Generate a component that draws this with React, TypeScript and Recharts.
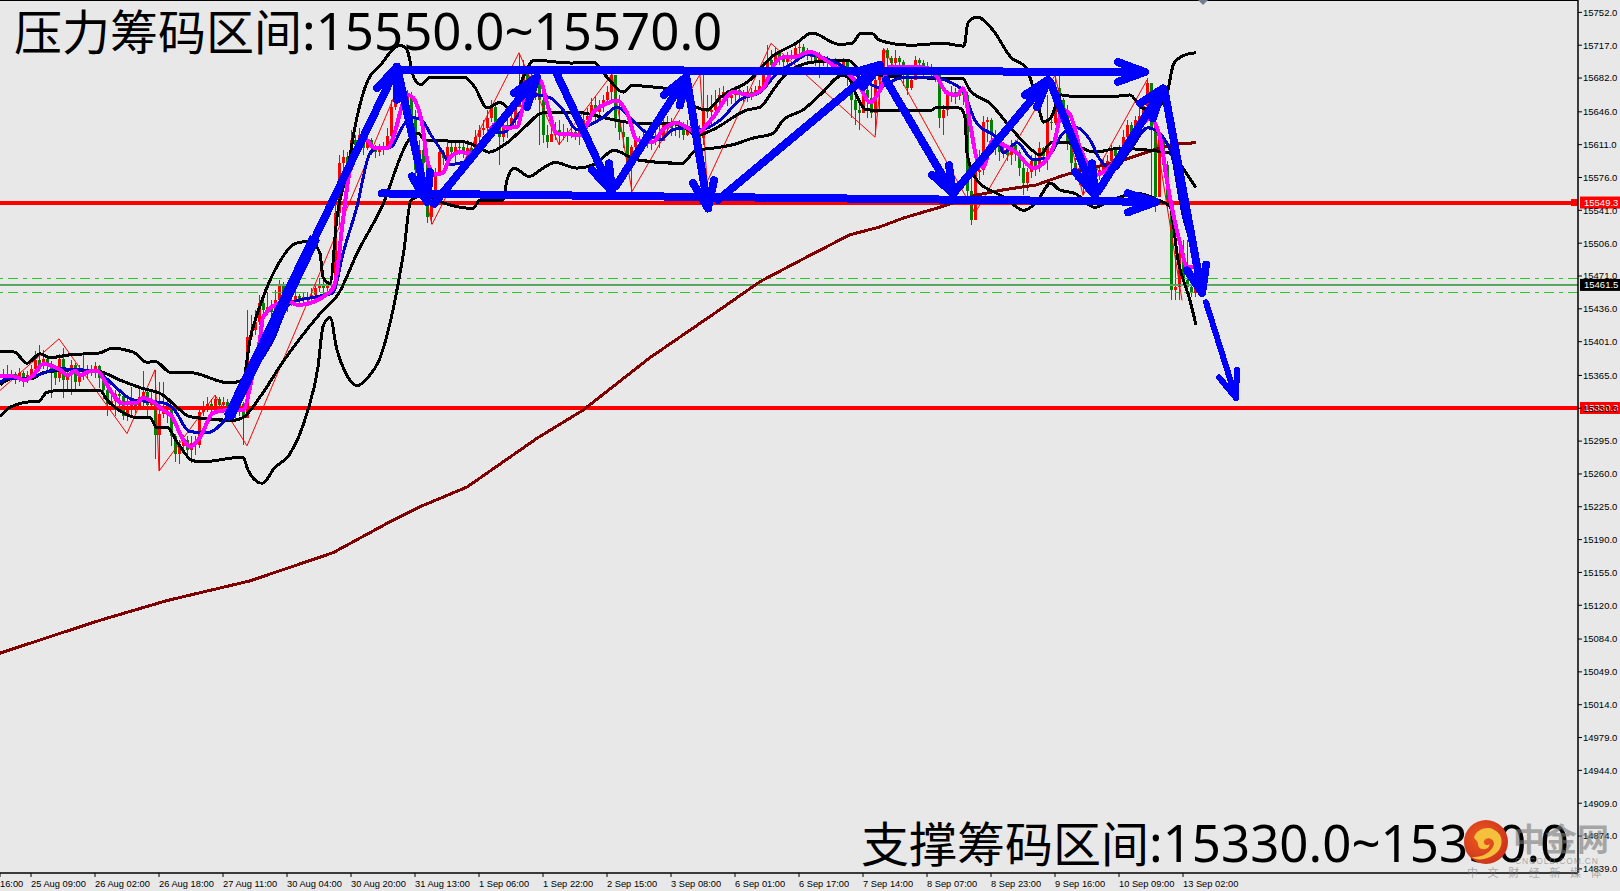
import { ComposedChart, Bar, Line, XAxis, YAxis, ReferenceLine } from "recharts";

// x values are bar numbers (one hourly bar = 4px), y values are prices
const closes = [
  15367, 15364, 15366, 15362, 15368, 15361, 15365, 15372, 15381, 15375, 15383, 15376, 15370, 15362, 15383, 15360, 15368, 15376, 15358, 15365,
  15372, 15368, 15371, 15375, 15362, 15350, 15335, 15338, 15345, 15343, 15322, 15330, 15335, 15332, 15342, 15347, 15333, 15337, 15302, 15324,
  15330, 15328, 15300, 15281, 15290, 15296, 15285, 15293, 15291, 15326, 15330, 15335, 15328, 15340, 15333, 15337, 15330, 15335, 15328, 15335,
  15320, 15406, 15413, 15422, 15442, 15435, 15438, 15433, 15445, 15461, 15445, 15442, 15445, 15450, 15445, 15449, 15446, 15451, 15458, 15462,
  15458, 15460, 15461, 15538, 15591, 15598, 15584, 15616, 15611, 15621, 15607, 15616, 15607, 15603, 15605, 15607, 15620, 15651, 15661, 15671,
  15659, 15664, 15639, 15584, 15605, 15591, 15534, 15549, 15581, 15603, 15597, 15609, 15603, 15609, 15608, 15603, 15607, 15603, 15619, 15627,
  15629, 15639, 15651, 15635, 15619, 15632, 15629, 15639, 15651, 15674, 15687, 15678, 15684, 15680, 15659, 15621, 15614, 15622, 15627, 15623,
  15625, 15620, 15624, 15621, 15627, 15637, 15642, 15653, 15646, 15651, 15659, 15667, 15685, 15635, 15624, 15619, 15591, 15608, 15616, 15614,
  15619, 15613, 15614, 15620, 15615, 15632, 15634, 15629, 15627, 15630, 15621, 15630, 15627, 15629, 15618, 15648, 15646, 15648, 15656, 15664,
  15667, 15661, 15664, 15669, 15666, 15664, 15667, 15664, 15669, 15674, 15694, 15701, 15696, 15709, 15703, 15699, 15703, 15706, 15714, 15715,
  15710, 15706, 15706, 15701, 15703, 15701, 15699, 15695, 15697, 15691, 15699, 15688, 15659, 15648, 15645, 15669, 15661, 15645, 15680, 15685,
  15712, 15703, 15698, 15703, 15699, 15688, 15671, 15680, 15701, 15698, 15693, 15691, 15688, 15685, 15639, 15648, 15664, 15667, 15663, 15667,
  15664, 15562, 15531, 15582, 15584, 15635, 15637, 15621, 15611, 15603, 15605, 15600, 15611, 15603, 15586, 15570, 15582, 15594, 15586, 15607,
  15599, 15635, 15634, 15671, 15659, 15648, 15613, 15591, 15582, 15586, 15575, 15580, 15586, 15582, 15584, 15590, 15594, 15605, 15599, 15603,
  15619, 15632, 15624, 15637, 15642, 15652, 15677, 15627, 15555, 15616, 15589, 15552, 15456, 15459, 15495, 15467, 15459, 15453, 15461.5,
];
const highs = [
  15372, 15376, 15371, 15369, 15373, 15370, 15370, 15376, 15391, 15397, 15392, 15386, 15380, 15375, 15388, 15394, 15372, 15381, 15378, 15376,
  15389, 15376, 15376, 15379, 15376, 15364, 15352, 15344, 15350, 15350, 15345, 15340, 15353, 15340, 15354, 15370, 15352, 15350, 15371, 15358,
  15358, 15338, 15330, 15303, 15296, 15302, 15300, 15300, 15300, 15330, 15338, 15342, 15340, 15344, 15342, 15342, 15340, 15340, 15338, 15340,
  15337, 15435, 15429, 15435, 15451, 15447, 15454, 15445, 15456, 15467, 15465, 15447, 15450, 15456, 15452, 15454, 15454, 15458, 15463, 15469,
  15467, 15465, 15467, 15547, 15600, 15605, 15603, 15627, 15621, 15629, 15624, 15621, 15618, 15611, 15612, 15614, 15629, 15659, 15671, 15680,
  15675, 15669, 15667, 15648, 15616, 15611, 15594, 15557, 15586, 15609, 15605, 15616, 15614, 15616, 15614, 15613, 15616, 15611, 15627, 15632,
  15637, 15648, 15659, 15656, 15639, 15637, 15639, 15646, 15656, 15708, 15701, 15693, 15695, 15691, 15682, 15664, 15632, 15629, 15635, 15637,
  15633, 15629, 15631, 15629, 15633, 15646, 15650, 15661, 15663, 15659, 15664, 15673, 15687, 15680, 15664, 15637, 15616, 15611, 15621, 15620,
  15627, 15624, 15621, 15627, 15632, 15639, 15642, 15639, 15635, 15637, 15635, 15637, 15635, 15635, 15632, 15685, 15664, 15664, 15669, 15671,
  15674, 15669, 15671, 15674, 15674, 15669, 15673, 15671, 15674, 15680, 15699, 15717, 15712, 15714, 15712, 15707, 15710, 15712, 15720, 15720,
  15718, 15714, 15712, 15710, 15710, 15706, 15705, 15701, 15703, 15701, 15703, 15701, 15693, 15671, 15659, 15674, 15671, 15680, 15688, 15691,
  15714, 15714, 15706, 15712, 15706, 15701, 15682, 15684, 15705, 15703, 15701, 15699, 15697, 15693, 15686, 15653, 15669, 15673, 15671, 15673,
  15671, 15667, 15589, 15586, 15605, 15642, 15641, 15639, 15627, 15616, 15614, 15611, 15616, 15616, 15605, 15594, 15586, 15600, 15600, 15614,
  15609, 15664, 15642, 15685, 15685, 15661, 15653, 15621, 15597, 15594, 15589, 15586, 15594, 15592, 15589, 15597, 15600, 15611, 15609, 15611,
  15627, 15637, 15635, 15642, 15650, 15659, 15682, 15674, 15653, 15627, 15621, 15594, 15557, 15493, 15501, 15509, 15509, 15483, 15467,
];
const lows = [
  15360, 15358, 15361, 15356, 15358, 15353, 15357, 15362, 15368, 15370, 15372, 15370, 15341, 15355, 15358, 15341, 15350, 15344, 15350, 15354,
  15360, 15362, 15364, 15362, 15352, 15340, 15322, 15330, 15322, 15332, 15318, 15316, 15320, 15325, 15328, 15332, 15322, 15328, 15276, 15264,
  15320, 15314, 15290, 15273, 15271, 15282, 15280, 15272, 15280, 15288, 15322, 15326, 15322, 15326, 15328, 15325, 15322, 15326, 15316, 15322,
  15291, 15349, 15403, 15408, 15419, 15422, 15429, 15424, 15433, 15443, 15439, 15433, 15439, 15441, 15440, 15441, 15440, 15443, 15445, 15454,
  15452, 15454, 15456, 15456, 15525, 15582, 15579, 15582, 15603, 15605, 15600, 15605, 15600, 15597, 15599, 15600, 15605, 15616, 15648, 15659,
  15650, 15648, 15632, 15575, 15579, 15582, 15528, 15526, 15546, 15578, 15589, 15594, 15597, 15591, 15600, 15597, 15599, 15594, 15605, 15614,
  15621, 15623, 15635, 15629, 15589, 15614, 15618, 15627, 15632, 15659, 15664, 15667, 15671, 15659, 15611, 15613, 15607, 15614, 15616, 15611,
  15616, 15614, 15618, 15616, 15611, 15621, 15629, 15637, 15637, 15641, 15646, 15653, 15656, 15629, 15616, 15607, 15579, 15560, 15603, 15605,
  15611, 15607, 15605, 15611, 15607, 15621, 15624, 15620, 15620, 15618, 15616, 15620, 15621, 15621, 15611, 15611, 15639, 15632, 15639, 15653,
  15656, 15652, 15654, 15656, 15661, 15656, 15656, 15659, 15664, 15667, 15669, 15682, 15688, 15699, 15696, 15693, 15696, 15701, 15704, 15705,
  15703, 15701, 15699, 15695, 15682, 15695, 15688, 15685, 15688, 15682, 15685, 15674, 15639, 15632, 15627, 15650, 15639, 15639, 15621, 15648,
  15699, 15671, 15688, 15693, 15691, 15674, 15664, 15669, 15688, 15688, 15684, 15685, 15682, 15678, 15629, 15621, 15642, 15656, 15654, 15659,
  15653, 15552, 15525, 15538, 15573, 15579, 15614, 15614, 15600, 15594, 15597, 15594, 15589, 15594, 15578, 15557, 15562, 15575, 15578, 15582,
  15589, 15584, 15627, 15632, 15650, 15632, 15605, 15582, 15573, 15568, 15557, 15568, 15575, 15573, 15573, 15582, 15586, 15592, 15592, 15594,
  15600, 15616, 15616, 15627, 15633, 15639, 15664, 15554, 15539, 15555, 15582, 15541, 15445, 15445, 15445, 15461, 15454, 15449, 15449,
];

const upperBand = [
  [-0.75, 15390], [2.75, 15390], [6, 15378], [9.25, 15388], [11.75, 15384], [16.75, 15387], [24.25, 15389], [27.25, 15394], [32.5, 15390], [36, 15379],
  [38, 15380], [42, 15368], [46.75, 15368], [56.5, 15357], [60, 15360], [61.75, 15403], [64.75, 15445], [69, 15485], [73.25, 15506], [77, 15508],
  [79.25, 15495], [80, 15470], [81.75, 15463], [83.5, 15534], [86.25, 15587], [88, 15630], [91.25, 15680], [94, 15694], [99.25, 15717], [101, 15712],
  [102.75, 15682], [104.5, 15675], [106.75, 15683], [115.25, 15683], [118, 15672], [121, 15650], [124.25, 15656], [127, 15648], [129.75, 15680], [132.75, 15701],
  [142, 15698], [147.5, 15699], [151, 15683], [155, 15667], [157.25, 15674], [163.5, 15672], [168.75, 15669], [173.25, 15651], [176, 15648], [179.5, 15662],
  [186.75, 15680], [192, 15704], [198.25, 15719], [202.25, 15730], [209, 15718], [212.25, 15719], [214.5, 15730], [217, 15730], [219.25, 15722], [227, 15717],
  [235, 15719], [240.25, 15716], [241.25, 15741], [243.5, 15747], [247.5, 15733], [252, 15704], [255.75, 15693], [259.25, 15645], [260, 15635], [262, 15640],
  [264.5, 15664], [268, 15662], [277, 15662], [281.75, 15664], [284.75, 15650], [287.25, 15648], [290.75, 15662], [292.75, 15698], [295.75, 15707], [298.25, 15709],
];
const middleBand = [
  [-0.75, 15355], [2.5, 15362], [7.5, 15362], [10, 15368], [17.5, 15371], [24.25, 15369], [29.25, 15360], [34.25, 15352], [40, 15344], [43.5, 15331],
  [46.75, 15321], [57.5, 15317], [60, 15320], [64.25, 15342], [69.75, 15378], [79.5, 15432], [84, 15453], [88.5, 15495], [94.75, 15545], [101.5, 15616],
  [103.75, 15623], [105.5, 15616], [115.25, 15614], [119, 15608], [121.5, 15603], [126, 15613], [130.5, 15630], [135, 15645], [144.25, 15645], [151, 15639],
  [158.5, 15634], [166.25, 15634], [170, 15630], [173.5, 15621], [177.5, 15627], [186, 15648], [189.25, 15651], [192.5, 15669], [195, 15683], [198.5, 15694],
  [202.5, 15699], [211.25, 15701], [215, 15688], [225, 15683], [231.75, 15682], [239.75, 15682], [241.75, 15669], [246.75, 15655], [251.75, 15630], [256.75, 15607],
  [259.25, 15600], [262, 15613], [266, 15613], [273, 15603], [279, 15607], [286.75, 15605], [291.75, 15602], [295.75, 15581], [298.25, 15565],
];
const lowerBand = [
  [-0.75, 15321], [1.75, 15331], [7.5, 15337], [8.75, 15337], [11, 15347], [14.25, 15349], [24.25, 15349], [26, 15339], [29.75, 15326], [33.5, 15320],
  [36.75, 15320], [38.5, 15309], [41, 15310], [43.5, 15294], [47.5, 15274], [50, 15273], [60, 15278], [61.25, 15264], [64.75, 15250], [68, 15267],
  [71.5, 15280], [76, 15325], [78.75, 15374], [80, 15417], [81.75, 15427], [83.5, 15392], [85.5, 15369], [88.5, 15354], [91.25, 15363], [94, 15381],
  [97.5, 15435], [100.25, 15499], [102, 15552], [105.5, 15557], [110, 15549], [117.5, 15543], [119.25, 15552], [125, 15552], [126, 15573], [127.75, 15586],
  [131.5, 15577], [135, 15586], [138, 15592], [143.5, 15586], [148.25, 15591], [152.75, 15605], [158.25, 15595], [169.75, 15591], [173.25, 15605], [177, 15607],
  [182.5, 15611], [187.5, 15618], [192.5, 15623], [195, 15637], [200, 15648], [204.25, 15664], [210, 15685], [211.75, 15680], [213.5, 15662], [216, 15648],
  [231.75, 15647], [233.5, 15651], [239.25, 15650], [240.5, 15640], [241, 15602], [243.5, 15573], [248.5, 15559], [250.25, 15555], [255.25, 15541], [258.25, 15549],
  [262, 15570], [264, 15563], [268, 15559], [273, 15544], [276, 15550], [283.75, 15559], [288.75, 15552], [291.75, 15545], [293.75, 15488], [296.75, 15445], [298.25, 15419],
];
const slowMa = [
  [-0.75, 15069], [24.25, 15104], [41, 15125], [61.75, 15146], [82.5, 15176], [96.75, 15209], [104.25, 15225], [116, 15246], [133.5, 15298], [145, 15328],
  [161.75, 15384], [178.5, 15433], [189.25, 15465], [201.75, 15493], [211.75, 15515], [219, 15523], [225.25, 15533], [234, 15544], [243, 15557], [250.25, 15563],
  [258.25, 15568], [264.25, 15577], [268, 15582], [279, 15593], [288.75, 15607], [293.75, 15612], [298.25, 15613],
];
const blueMa = [
  [-0.75, 15357], [1, 15362], [5.5, 15362], [8.5, 15365], [11, 15369], [14.25, 15372], [19.25, 15371], [23.5, 15369], [27.5, 15355], [32.5, 15339],
  [37.5, 15337], [40, 15336], [42.5, 15330], [46.75, 15305], [51, 15304], [56, 15320], [62.5, 15368], [67.5, 15403], [71.75, 15442], [78.5, 15449],
  [82.5, 15453], [85, 15495], [88.5, 15545], [91.75, 15602], [93.5, 15607], [96.75, 15608], [100.5, 15634], [102.25, 15640], [104.75, 15637], [106.75, 15623],
  [110, 15602], [111.75, 15590], [115, 15592], [118.5, 15608], [121.75, 15624], [125, 15624], [129.25, 15645], [133.5, 15664], [136.75, 15661], [140, 15648],
  [143.5, 15627], [146.75, 15632], [150, 15640], [153.5, 15651], [156.75, 15640], [161, 15623], [164.25, 15616], [167.5, 15627], [171, 15629], [174.25, 15627],
  [179.25, 15637], [184.25, 15659], [189.25, 15667], [193.5, 15687], [197.5, 15698], [201, 15707], [208.5, 15698], [214.5, 15682], [219, 15672], [224.25, 15682],
  [231.5, 15683], [239.5, 15671], [243, 15637], [249.25, 15613], [250, 15602], [253.5, 15613], [257.5, 15595], [261, 15597], [265, 15623], [268.5, 15629],
  [271.75, 15616], [274.25, 15595], [277.5, 15584], [281.75, 15605], [286.25, 15629], [290, 15619], [292.5, 15595], [294.75, 15541], [297.25, 15504],
];
const magentaMa = [
  [-0.75, 15364], [2.5, 15364], [5.5, 15360], [7.5, 15365], [10, 15377], [14.25, 15371], [16.25, 15365], [18, 15370], [19.25, 15365], [21.25, 15369],
  [23.5, 15370], [26, 15355], [28.5, 15339], [30, 15335], [33.5, 15336], [35, 15341], [37.5, 15337], [40, 15328], [42.25, 15321], [44.75, 15299],
  [46.75, 15289], [49.25, 15299], [52.5, 15325], [56, 15328], [60, 15328], [62.5, 15368], [64.25, 15403], [65, 15427], [69.25, 15442], [71.75, 15443],
  [73.75, 15440], [81.75, 15454], [83, 15463], [85, 15531], [86.75, 15584], [91, 15616], [92.5, 15608], [96, 15607], [97.5, 15618], [100, 15655],
  [101.25, 15664], [102.5, 15661], [104.75, 15634], [106.25, 15591], [108, 15579], [110, 15581], [111.75, 15597], [114.25, 15603], [116.25, 15602], [119.25, 15608],
  [123.5, 15634], [126, 15629], [128.5, 15630], [130, 15651], [131.25, 15669], [134.25, 15680], [136, 15655], [138.5, 15623], [141.75, 15622], [144.25, 15621],
  [147.5, 15645], [151, 15655], [153.5, 15658], [156, 15645], [158.5, 15616], [162.5, 15614], [165, 15627], [168.5, 15634], [173.5, 15624], [177.5, 15640],
  [182.5, 15667], [186.75, 15664], [190, 15671], [193, 15698], [195, 15704], [197.5, 15704], [201.75, 15710], [205, 15703], [208.5, 15693], [211.75, 15685],
  [214.25, 15672], [216.75, 15656], [219.25, 15669], [221.75, 15694], [224.25, 15694], [231, 15693], [233.5, 15683], [236, 15666], [238.5, 15664], [240, 15671],
  [241.75, 15634], [243.5, 15595], [245, 15587], [247.5, 15616], [250, 15611], [253.5, 15602], [257.5, 15586], [260, 15591], [262.5, 15608], [265, 15648],
  [266.75, 15643], [269.25, 15608], [273.5, 15579], [277.5, 15591], [281.75, 15613], [286.75, 15639], [289.25, 15619], [291.25, 15566], [294.25, 15506], [296, 15481], [297.5, 15480],
];
const zigzag = [
  [-0.75, 15349], [14, 15404], [31, 15303], [38, 15371], [39, 15263], [53, 15344], [61, 15290], [98.75, 15672], [107.25, 15526], [129, 15709], [139, 15611], [152.25, 15686],
  [157.25, 15561], [174.25, 15686], [176, 15571], [192, 15719], [218, 15619], [220.25, 15713], [243, 15538], [263, 15685], [270, 15557], [286, 15680], [294.75, 15445],
];

// hand drawn arrows: tail, tip, one barb, tip, other barb
const arrows = [
  [[98.25, 15691], [285.5, 15688.5], [278.75, 15699], [285.5, 15688.5], [278.75, 15678]],
  [[56.5, 15321], [98.5, 15694], [93.5, 15671], [98.5, 15694], [98.5, 15659]],
  [[98.5, 15694], [106, 15550], [102.25, 15577], [106, 15550], [106.75, 15582]],
  [[94.75, 15559], [288.25, 15550], [281.25, 15559], [288.25, 15550], [281.25, 15539]],
  [[107.75, 15548], [133.5, 15683], [127.75, 15666], [133.5, 15683], [131, 15651]],
  [[138.5, 15686], [152.25, 15561], [147.25, 15584], [152.25, 15561], [151.5, 15591]],
  [[153.25, 15567], [170.75, 15683], [165.25, 15664], [170.75, 15683], [169.25, 15653]],
  [[171, 15680], [176.25, 15543], [172.5, 15570], [176.25, 15543], [177.75, 15573]],
  [[178.75, 15552], [219.25, 15696], [213, 15688.5], [219.25, 15696], [215, 15672.5]],
  [[220.75, 15680], [237.5, 15559], [232.25, 15579], [237.5, 15559], [236.5, 15589]],
  [[238, 15561], [261.25, 15680], [255.5, 15664], [261.25, 15680], [258.5, 15651]],
  [[261.75, 15678], [273, 15557], [268, 15582], [273, 15557], [272.25, 15591]],
  [[273.75, 15561], [290, 15671], [284.25, 15655], [290, 15671], [287.5, 15639]],
  [[290.5, 15666], [299.75, 15453], [296, 15477], [299.75, 15453], [300.75, 15483]],
];
const thickStroke = [[56.5, 15321], [78, 15512]];
const lastArrow = [[300.75, 15443], [308.25, 15341], [304, 15363], [308.25, 15341], [308.5, 15371]];

const tickBars = [-0.75, 7, 23, 39, 55, 71, 87, 103, 119, 135, 151, 167, 183, 199, 215, 231, 247, 263, 279, 295];
const tickLabels = [
  "16:00", "25 Aug 09:00", "26 Aug 02:00", "26 Aug 18:00", "27 Aug 11:00", "30 Aug 04:00", "30 Aug 20:00", "31 Aug 13:00", "1 Sep 06:00", "1 Sep 22:00",
  "2 Sep 15:00", "3 Sep 08:00", "6 Sep 01:00", "6 Sep 17:00", "7 Sep 14:00", "8 Sep 07:00", "8 Sep 23:00", "9 Sep 16:00", "10 Sep 09:00", "13 Sep 02:00",
];
const priceTicks = [
  15752, 15717, 15682, 15646, 15611, 15576, 15541, 15506, 15471, 15436, 15401, 15365, 15330, 15295, 15260, 15225, 15190, 15155, 15120, 15084, 15049, 15014, 14979, 14944, 14909, 14874, 14839,
];

const resistanceLine = 15549.3;
const supportLine = 15330.3;
const bidLine = 15461.5;
const askLine = 15460.4;
const upperGreen = 15468.5;
const lowerGreen = 15453.6;
const topLabel = "压力筹码区间";
const topRange = ":15550.0~15570.0";
const bottomLabel = "支撑筹码区间";
const bottomRange = ":15330.0~15350.0";

const yMin = 14834.6;
const yMax = 15765.2;

const candles = closes.map((close, i) => ({
  bar: i,
  open: i === 0 ? 15366 : closes[i - 1],
  close,
  range: [lows[i], highs[i]],
}));
const pts = (pairs: number[][]) => pairs.map(([bar, price]) => ({ bar, price }));

function CandleShape(props: any) {
  const { x, y, width, height, payload } = props;
  const [low, high] = payload.range;
  const perPrice = height / (high - low);
  const mid = Math.round(x + width / 2);
  const top = y + (high - Math.max(payload.open, payload.close)) * perPrice;
  const bodyH = Math.max(1, Math.abs(payload.open - payload.close) * perPrice);
  const color = payload.close >= payload.open ? "#ff0000" : "#008000";
  return (
    <g shapeRendering="crispEdges">
      <rect x={mid} y={y} width={1} height={height} fill={color} />
      <rect x={mid - 1} y={top} width={3} height={bodyH} fill={color} />
    </g>
  );
}

function XTick(props: any) {
  const { x, y, payload } = props;
  return (
    <text x={x} y={y + 8} fontSize={9.3} fontFamily="Liberation Sans" fill="#000">
      {tickLabels[tickBars.indexOf(payload.value)]}
    </text>
  );
}

function PriceTag(props: any) {
  const { viewBox, text, fill, square } = props;
  const y = viewBox.y;
  return (
    <g>
      {square && <rect x={1571} y={y - 3.5} width={7} height={7} fill={fill} />}
      <rect x={1580} y={y - 6} width={40} height={12} fill={fill} />
      <text x={1584} y={y + 3.5} fontSize={9.5} fontFamily="Liberation Sans" fill="#fff">{text}</text>
    </g>
  );
}

function Overlay() {
  const gray = "rgba(120,120,120,0.6)";
  const digits = { fontFamily: "Noto Sans", fontSize: 51 };
  return (
    <svg width={1620} height={891} style={{ position: "absolute", left: 0, top: 0, pointerEvents: "none" }}>
      <polygon points="1198,0 1208,0 1203,5" fill="#6f7f90" />
      <text x={14} y={50} fontSize={48} fontFamily="Noto Sans CJK SC" fill="#000">
        {topLabel}
        <tspan {...digits}>{topRange}</tspan>
      </text>
      <text x={861} y={862} fontSize={48} fontFamily="Noto Sans CJK SC" fill="#000">
        {bottomLabel}
        <tspan {...digits}>{bottomRange}</tspan>
      </text>
      <defs>
        <radialGradient id="logoFill" cx="0.4" cy="0.4" r="0.7">
          <stop offset="0" stopColor="#ee5a20" />
          <stop offset="1" stopColor="#c9301a" />
        </radialGradient>
      </defs>
      <circle cx={1486} cy={842} r={22} fill="url(#logoFill)" />
      <path
        d="M1474 838 C1476 828 1490 826 1494 830 C1504 834 1504 848 1495 854 C1488 860 1476 861 1472 857 C1482 858 1492 852 1494 844 C1494 838 1486 836 1484 841 C1483 846 1490 846 1489 843 C1492 850 1478 852 1478 844 C1478 842 1476 840 1474 838 Z"
        fill="#f5c03c"
      />
      <text x={1513} y={851} fontSize={32} fontWeight={700} fontFamily="Noto Sans CJK SC" fill={gray}>中金网</text>
      <text x={1515} y={864} fontSize={8.5} letterSpacing={0.8} fontFamily="Liberation Sans" fill={gray}>CNGOLD.COM.CN</text>
      <text x={1467} y={877} fontSize={11} letterSpacing={9.6} fontFamily="Noto Sans CJK SC" fill={gray}>中文财经新媒体</text>
    </svg>
  );
}

export default function App() {
  const bands = [upperBand, middleBand, lowerBand];
  const common = { dataKey: "price", dot: false, activeDot: false, isAnimationActive: false };
  return (
    <div style={{ position: "fixed", left: 0, top: 0, width: 1620, height: 891, background: "#e8e8e8", overflow: "hidden" }}>
      <ComposedChart width={1620} height={891} data={candles} margin={{ top: 0, right: 0, left: 0, bottom: 0 }}>
        <XAxis
          dataKey="bar"
          type="number"
          domain={[-0.75, 393.75]}
          allowDataOverflow
          ticks={tickBars}
          interval={0}
          height={18}
          tick={<XTick />}
          tickSize={4}
          tickLine={{ stroke: "#000" }}
          axisLine={{ stroke: "#000", strokeWidth: 1.5 }}
        />
        <YAxis
          orientation="right"
          type="number"
          domain={[yMin, yMax]}
          allowDataOverflow
          ticks={priceTicks}
          interval={0}
          width={42}
          tickSize={4}
          tickMargin={1}
          tickFormatter={(v: number) => v.toFixed(1)}
          tick={{ fontSize: 9.5, fontFamily: "Liberation Sans", fill: "#000", textAnchor: "start" }}
          tickLine={{ stroke: "#000" }}
          axisLine={{ stroke: "#000", strokeWidth: 1.5 }}
        />
        <ReferenceLine y={yMax} stroke="#000" strokeWidth={2} />
        <ReferenceLine y={upperGreen} stroke="#22cc22" strokeWidth={1} strokeDasharray="10 5 4 5" shapeRendering="crispEdges" />
        <ReferenceLine y={lowerGreen} stroke="#22cc22" strokeWidth={1} strokeDasharray="10 5 4 5" shapeRendering="crispEdges" />
        <ReferenceLine y={askLine} stroke="#33cc33" strokeWidth={1} shapeRendering="crispEdges" />
        <ReferenceLine y={bidLine} stroke="#80808f" strokeWidth={1} shapeRendering="crispEdges" label={<PriceTag text="15461.5" fill="#000" />} />
        <ReferenceLine y={resistanceLine} stroke="#ff0000" strokeWidth={4} shapeRendering="crispEdges" label={<PriceTag text="15549.3" fill="#ff0000" square />} />
        <ReferenceLine y={supportLine} stroke="#ff0000" strokeWidth={4} shapeRendering="crispEdges" label={<PriceTag text="15330.3" fill="#ff0000" />} />
        <Bar dataKey="range" barSize={3} shape={<CandleShape />} isAnimationActive={false} />
        <Line {...common} data={pts(zigzag)} stroke="#ff0000" strokeWidth={1} />
        <Line {...common} data={pts(slowMa)} stroke="#7f0000" strokeWidth={3} shapeRendering="crispEdges" />
        {bands.map((band, i) => (
          <Line {...common} key={i} data={pts(band)} stroke="#000" strokeWidth={3} type="monotone" shapeRendering="crispEdges" />
        ))}
        <Line {...common} data={pts(blueMa)} stroke="#0000c8" strokeWidth={3} type="monotone" shapeRendering="crispEdges" />
        <Line {...common} data={pts(magentaMa)} stroke="#ff00ff" strokeWidth={4} type="monotone" shapeRendering="crispEdges" />
        <Line {...common} data={pts(thickStroke)} stroke="#0000ff" strokeWidth={11} shapeRendering="crispEdges" />
        {arrows.map((a, i) => (
          <Line {...common} key={i} data={pts(a)} stroke="#0000ff" strokeWidth={8} strokeLinejoin="round" strokeLinecap="round" shapeRendering="crispEdges" />
        ))}
        <Line {...common} data={pts(lastArrow)} stroke="#0000ff" strokeWidth={6} strokeLinejoin="round" strokeLinecap="round" shapeRendering="crispEdges" />
      </ComposedChart>
      <Overlay />
    </div>
  );
}
